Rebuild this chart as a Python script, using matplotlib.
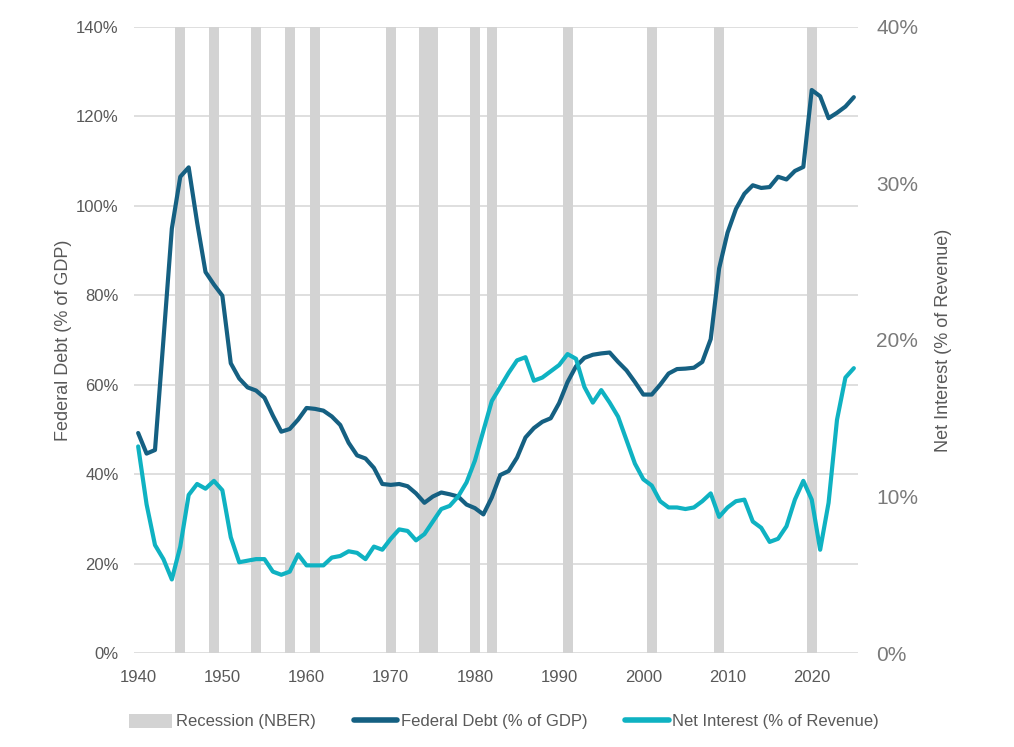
import matplotlib
matplotlib.use("Agg")
import matplotlib.pyplot as plt
from matplotlib.patches import Patch
from matplotlib.lines import Line2D
import numpy as np

years = list(range(1940, 2026))

federal_debt = [
    49.2, 44.6, 45.4, 70.0, 94.9, 106.5, 108.6, 96.3, 85.2, 82.4,
    79.9, 64.8, 61.4, 59.4, 58.7, 57.1, 53.1, 49.5, 50.1, 52.2,
    54.8, 54.6, 54.2, 52.9, 51.0, 47.0, 44.2, 43.5, 41.4, 37.8,
    37.6, 37.8, 37.3, 35.7, 33.6, 35.0, 35.9, 35.5, 35.0, 33.2,
    32.4, 31.0, 34.8, 39.8, 40.7, 43.7, 48.2, 50.3, 51.7, 52.5,
    55.9, 60.6, 64.1, 66.0, 66.7, 67.0, 67.2, 65.1, 63.2, 60.6,
    57.8, 57.8, 60.0, 62.5, 63.5, 63.6, 63.8, 65.1, 70.2, 86.0,
    94.0, 99.3, 102.7, 104.6, 104.0, 104.2, 106.5, 105.9, 107.8, 108.7,
    125.9, 124.5, 119.6, 120.8, 122.2, 124.3,
]

net_interest = [
    13.2, 9.5, 6.9, 6.0, 4.7, 6.8, 10.1, 10.8, 10.5, 11.0,
    10.4, 7.4, 5.8, 5.9, 6.0, 6.0, 5.2, 5.0, 5.2, 6.3,
    5.6, 5.6, 5.6, 6.1, 6.2, 6.5, 6.4, 6.0, 6.8, 6.6,
    7.3, 7.9, 7.8, 7.2, 7.6, 8.4, 9.2, 9.4, 10.0, 10.9,
    12.3, 14.2, 16.1, 17.0, 17.9, 18.7, 18.9, 17.4, 17.6, 18.0,
    18.4, 19.1, 18.8, 17.0, 16.0, 16.8, 16.0, 15.1, 13.6, 12.1,
    11.1, 10.7, 9.7, 9.3, 9.3, 9.2, 9.3, 9.7, 10.2, 8.7,
    9.3, 9.7, 9.8, 8.4, 8.0, 7.1, 7.3, 8.1, 9.8, 11.0,
    9.8, 6.6, 9.6, 14.9, 17.6, 18.2,
]

recession_years = [1945, 1949, 1954, 1958, 1961, 1970, 1974, 1975,
                   1980, 1982, 1991, 2001, 2009, 2020]

left_ticks = [0, 20, 40, 60, 80, 100, 120, 140]
right_ticks = [0, 10, 20, 30, 40]
x_ticks = [1940, 1950, 1960, 1970, 1980, 1990, 2000, 2010, 2020]

debt_color = "#156082"
int_color = "#0FB2C2"
rec_color = "#D3D3D3"
grid_color = "#D9D9D9"
text_color = "#595959"
rtext_color = "#7A7A7A"

base = ["Liberation Sans", "DejaVu Sans"]
plt.rcParams["font.family"] = base

fig = plt.figure(figsize=(10.14, 7.47), dpi=100)
ax = fig.add_axes([0.1321, 0.1258, 0.7141, 0.8381])
ax2 = ax.twinx()

ax.set_zorder(1)
ax2.set_zorder(2)
ax.patch.set_visible(False)
ax2.patch.set_visible(False)

ax.set_xlim(1939.5, 2025.5)
ax.set_ylim(0, 140)
ax2.set_ylim(0, 40)

for v in left_ticks:
    ax.axhline(v, color=grid_color, lw=1.2, zorder=0)

ax.bar(recession_years, [140] * len(recession_years), width=1.2,
       color=rec_color, zorder=1, linewidth=0)

ax.plot(years, federal_debt, color=debt_color, lw=3.0, zorder=3,
        solid_joinstyle="round", solid_capstyle="round")
ax2.plot(years, net_interest, color=int_color, lw=3.0, zorder=3,
         solid_joinstyle="round", solid_capstyle="round")

ax.set_yticks(left_ticks)
ax.set_yticklabels([f"{v}%" for v in left_ticks], fontsize=12, color=text_color)
ax2.set_yticks(right_ticks)
ax2.set_yticklabels([f"{v}%" for v in right_ticks], fontsize=15, color=rtext_color)
ax.set_xticks(x_ticks)
ax.set_xticklabels([str(v) for v in x_ticks], fontsize=12, color=text_color)

for a in (ax, ax2):
    for s in a.spines.values():
        s.set_visible(False)
    a.tick_params(length=0)
ax.tick_params(axis="y", pad=11)
ax.tick_params(axis="x", pad=12)
ax2.tick_params(axis="y", pad=13)

ax.set_ylabel("Federal Debt (% of GDP)", fontsize=13, color=text_color, labelpad=3)
ax2.set_ylabel("Net Interest (% of Revenue)", fontsize=13, color=text_color, labelpad=12)

handles = [
    Patch(facecolor=rec_color, edgecolor="none"),
    Line2D([0], [0], color=debt_color, lw=4, solid_capstyle="round"),
    Line2D([0], [0], color=int_color, lw=4, solid_capstyle="round"),
]
labels = ["Recession (NBER)", "Federal Debt (% of GDP)", "Net Interest (% of Revenue)"]
leg = fig.legend(handles, labels, loc="center", bbox_to_anchor=(0.497, 0.034),
                 ncol=3, frameon=False, handlelength=2.6, handleheight=0.9,
                 handletextpad=0.2, columnspacing=2.3,
                 prop={"size": 12})
for t in leg.get_texts():
    t.set_color(text_color)

fig.savefig("out.png", dpi=100)
